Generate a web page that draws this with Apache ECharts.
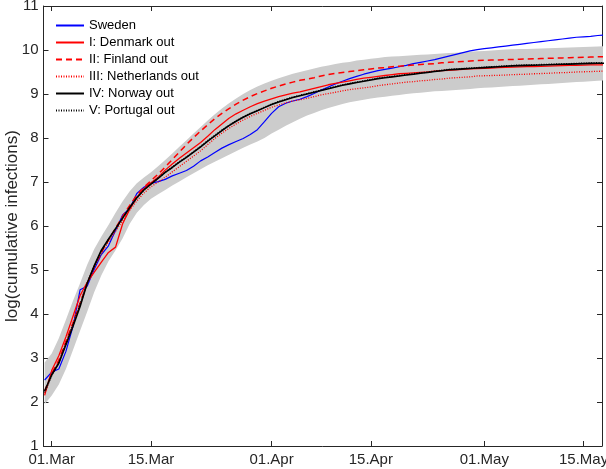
<!DOCTYPE html>
<html>
<head>
<meta charset="utf-8">
<script src="https://cdn.jsdelivr.net/npm/echarts@6/dist/echarts.min.js"></script>
<style>
html,body{margin:0;padding:0;background:#fff;}
#chart{width:606px;height:469px;}
</style>
</head>
<body>
<div id="chart"></div>
<script>
// day offsets from 01.Mar
var days = [-1,0,1,2,3,4,5,6,7,8,9,10,11,12,13,14,15,16,17,18,19,20,21,22,23,24,25,26,27,28,29,30,31,32,33,34,35,36,37,38,39,40,41,42,43,44,45,46,47,48,49,50,51,52,53,54,55,56,57,58,59,60,61,62,63,64,65,66,67,68,69,70,71,72,73,74,75,76,77,78];

var tickDays = [0, 14, 31, 45, 61, 75];
var tickLabels = ['01.Mar', '15.Mar', '01.Apr', '15.Apr', '01.May', '15.May'];

var seriesNames = ['Sweden', 'I: Denmark out', 'II: Finland out', 'III: Netherlands out', 'IV: Norway out', 'V: Portugal out'];

var sweden = [2.50,2.68,2.75,3.15,3.72,4.55,4.63,5.02,5.35,5.55,5.90,6.25,6.40,6.74,6.88,6.97,7.01,7.06,7.14,7.20,7.26,7.36,7.48,7.57,7.67,7.77,7.85,7.92,7.99,8.08,8.19,8.37,8.56,8.71,8.79,8.84,8.88,8.94,9.01,9.09,9.16,9.23,9.29,9.35,9.40,9.45,9.49,9.53,9.56,9.59,9.62,9.65,9.69,9.72,9.75,9.78,9.82,9.86,9.90,9.94,9.98,10.01,10.03,10.05,10.07,10.09,10.11,10.13,10.15,10.17,10.19,10.21,10.23,10.25,10.27,10.29,10.30,10.31,10.33,10.34];

var denmarkOut = [2.15,2.72,3.05,3.48,3.95,4.42,4.72,4.95,5.18,5.40,5.52,6.05,6.38,6.65,6.85,6.98,7.11,7.27,7.41,7.54,7.66,7.78,7.90,8.04,8.19,8.32,8.45,8.55,8.63,8.71,8.78,8.84,8.89,8.94,8.98,9.02,9.05,9.09,9.13,9.17,9.21,9.24,9.27,9.30,9.33,9.36,9.38,9.40,9.42,9.44,9.46,9.47,9.48,9.49,9.50,9.52,9.53,9.54,9.55,9.56,9.57,9.58,9.585,9.59,9.60,9.605,9.61,9.615,9.62,9.625,9.63,9.635,9.64,9.645,9.65,9.65,9.655,9.66,9.66,9.665];

var finlandOut = [2.25,2.65,2.95,3.38,3.80,4.25,4.70,5.08,5.40,5.68,5.95,6.22,6.47,6.70,6.88,7.03,7.18,7.34,7.51,7.68,7.85,8.01,8.16,8.30,8.44,8.56,8.67,8.77,8.86,8.94,9.01,9.07,9.13,9.18,9.23,9.27,9.31,9.34,9.37,9.41,9.44,9.47,9.49,9.51,9.53,9.55,9.57,9.59,9.60,9.62,9.63,9.645,9.66,9.67,9.68,9.69,9.71,9.72,9.73,9.74,9.75,9.76,9.765,9.77,9.775,9.78,9.785,9.79,9.795,9.80,9.805,9.81,9.815,9.82,9.825,9.83,9.835,9.84,9.845,9.85];

var netherlandsOut = [2.20,2.62,2.92,3.35,3.78,4.22,4.68,5.06,5.38,5.64,5.88,6.12,6.36,6.57,6.75,6.89,7.00,7.11,7.23,7.35,7.47,7.59,7.71,7.85,7.99,8.11,8.22,8.32,8.41,8.49,8.56,8.63,8.70,8.75,8.80,8.84,8.87,8.90,8.94,8.98,9.01,9.04,9.07,9.10,9.12,9.14,9.16,9.19,9.21,9.23,9.25,9.27,9.28,9.30,9.31,9.33,9.34,9.36,9.37,9.38,9.39,9.41,9.415,9.42,9.425,9.43,9.44,9.445,9.45,9.46,9.465,9.47,9.48,9.485,9.49,9.50,9.505,9.51,9.515,9.52];

var norwayOut = [2.25,2.62,2.88,3.30,3.72,4.17,4.70,5.10,5.45,5.70,5.94,6.18,6.42,6.64,6.82,6.95,7.08,7.22,7.33,7.45,7.56,7.68,7.80,7.93,8.05,8.17,8.28,8.38,8.47,8.55,8.62,8.69,8.76,8.82,8.87,8.92,8.96,9.00,9.04,9.08,9.12,9.16,9.20,9.23,9.26,9.29,9.32,9.35,9.37,9.39,9.41,9.43,9.45,9.47,9.49,9.51,9.53,9.55,9.56,9.57,9.58,9.59,9.60,9.61,9.62,9.63,9.64,9.645,9.65,9.655,9.66,9.665,9.67,9.675,9.68,9.685,9.69,9.695,9.70,9.70];

var portugalOut = [2.22,2.60,2.90,3.33,3.76,4.22,4.70,5.08,5.42,5.69,5.93,6.18,6.42,6.64,6.82,6.96,7.09,7.22,7.34,7.46,7.57,7.69,7.81,7.94,8.06,8.18,8.29,8.39,8.48,8.56,8.63,8.70,8.77,8.83,8.88,8.93,8.97,9.01,9.05,9.09,9.13,9.17,9.21,9.24,9.27,9.30,9.33,9.36,9.38,9.40,9.42,9.44,9.46,9.48,9.50,9.52,9.54,9.56,9.57,9.58,9.59,9.60,9.61,9.62,9.63,9.64,9.65,9.655,9.66,9.665,9.67,9.675,9.68,9.685,9.69,9.695,9.70,9.705,9.71,9.71];

var bandUpper = [2.90,3.10,3.45,3.87,4.30,4.70,5.12,5.48,5.76,6.02,6.30,6.56,6.79,6.97,7.10,7.22,7.36,7.50,7.65,7.80,7.95,8.10,8.25,8.40,8.54,8.67,8.79,8.90,9.00,9.09,9.17,9.24,9.30,9.36,9.41,9.46,9.50,9.54,9.58,9.62,9.65,9.68,9.71,9.73,9.76,9.78,9.80,9.82,9.84,9.85,9.86,9.87,9.88,9.89,9.90,9.91,9.92,9.93,9.94,9.95,9.96,9.97,9.98,9.99,10.00,10.01,10.015,10.02,10.025,10.03,10.035,10.04,10.045,10.05,10.055,10.06,10.07,10.075,10.08,10.085];

var bandLower = [1.95,2.15,2.40,2.75,3.18,3.62,4.05,4.50,4.88,5.20,5.45,5.72,6.05,6.30,6.48,6.62,6.72,6.82,6.92,7.01,7.11,7.20,7.29,7.38,7.46,7.54,7.62,7.70,7.78,7.85,7.92,8.00,8.10,8.19,8.28,8.36,8.44,8.51,8.57,8.63,8.68,8.73,8.77,8.81,8.84,8.87,8.90,8.92,8.94,8.96,8.98,9.00,9.015,9.03,9.045,9.06,9.07,9.08,9.09,9.10,9.115,9.13,9.14,9.15,9.16,9.17,9.18,9.19,9.20,9.21,9.22,9.23,9.24,9.25,9.26,9.27,9.28,9.29,9.30,9.31];

function pairs(vals) {
  return days.map(function (d, i) { return [d, vals[i]]; });
}

var FONT = "'Liberation Sans', Arial, Helvetica, sans-serif";
var AX = '#262626';

function xAxisDef(pos, showLabel) {
  return {
    type: 'value', position: pos, min: -1.16, max: 77.6,
    axisLine: { show: true, onZero: false, lineStyle: { color: AX, width: 1 } },
    axisTick: { show: true, inside: true, length: 5, customValues: tickDays, lineStyle: { color: AX } },
    axisLabel: {
      show: showLabel, customValues: tickDays, margin: 6,
      color: AX, fontFamily: FONT, fontSize: 15,
      formatter: function (v) { var k = tickDays.indexOf(v); return k >= 0 ? tickLabels[k] : ''; }
    },
    splitLine: { show: false }
  };
}
function yAxisDef(pos, showLabel) {
  var a = {
    type: 'value', position: pos, min: 1, max: 11, interval: 1,
    axisLine: { show: true, onZero: false, lineStyle: { color: AX, width: 1 } },
    axisTick: { show: true, inside: true, length: 5, lineStyle: { color: AX } },
    axisLabel: { show: showLabel, margin: 5, color: AX, fontFamily: FONT, fontSize: 15 },
    splitLine: { show: false }
  };
  if (showLabel) {
    a.name = 'log(cumulative infections)';
    a.nameLocation = 'middle';
    a.nameGap = 23;
    a.nameMoveOverlap = false;
    a.nameTextStyle = { color: AX, fontFamily: FONT, fontSize: 17 };
  }
  return a;
}

var lineStyles = [
  { color: '#0000ff', width: 1.2, type: 'solid' },
  { color: '#ff0000', width: 1.3, type: 'solid' },
  { color: '#ff0000', width: 1.5, type: [6, 4] },
  { color: '#ff0000', width: 1.3, type: [1, 1.5] },
  { color: '#000000', width: 1.6, type: 'solid' },
  { color: '#000000', width: 1.4, type: [1, 1.5] }
];
var seriesVals = [sweden, denmarkOut, finlandOut, netherlandsOut, norwayOut, portugalOut];

var series = [{
  type: 'custom', name: 'band', coordinateSystem: 'cartesian2d',
  xAxisIndex: 0, yAxisIndex: 0, clip: true, silent: true, z: 1,
  data: [[0, 5]],
  encode: { x: 0, y: 1 },
  renderItem: function (params, api) {
    var pts = [];
    for (var i = 0; i < days.length; i++) pts.push(api.coord([days[i], bandUpper[i]]));
    for (var j = days.length - 1; j >= 0; j--) pts.push(api.coord([days[j], bandLower[j]]));
    return { type: 'polygon', shape: { points: pts }, style: { fill: '#cccccc', stroke: null } };
  }
}];
seriesNames.forEach(function (nm, k) {
  series.push({
    type: 'line', name: nm, data: pairs(seriesVals[k]),
    xAxisIndex: 0, yAxisIndex: 0,
    symbol: 'none', showSymbol: false, smooth: false, clip: true,
    lineStyle: lineStyles[k], itemStyle: { color: lineStyles[k].color },
    z: 2 + k
  });
});

var chart = echarts.init(document.getElementById('chart'), null, { renderer: 'canvas' });
chart.setOption({
  animation: false,
  backgroundColor: '#ffffff',
  grid: { left: 43.5, right: 4, top: 6, bottom: 23, outerBoundsMode: 'none', containLabel: false },
  legend: {
    data: seriesNames, orient: 'vertical', left: 55, top: 19, padding: 0,
    itemWidth: 28, itemHeight: 14, itemGap: 4,
    itemStyle: { opacity: 0, borderWidth: 0 },
    textStyle: { color: '#000', fontFamily: FONT, fontSize: 13 },
    selectedMode: false
  },
  xAxis: [xAxisDef('bottom', true), xAxisDef('top', false)],
  yAxis: [yAxisDef('left', true), yAxisDef('right', false)],
  series: series
});
</script>
</body>
</html>
